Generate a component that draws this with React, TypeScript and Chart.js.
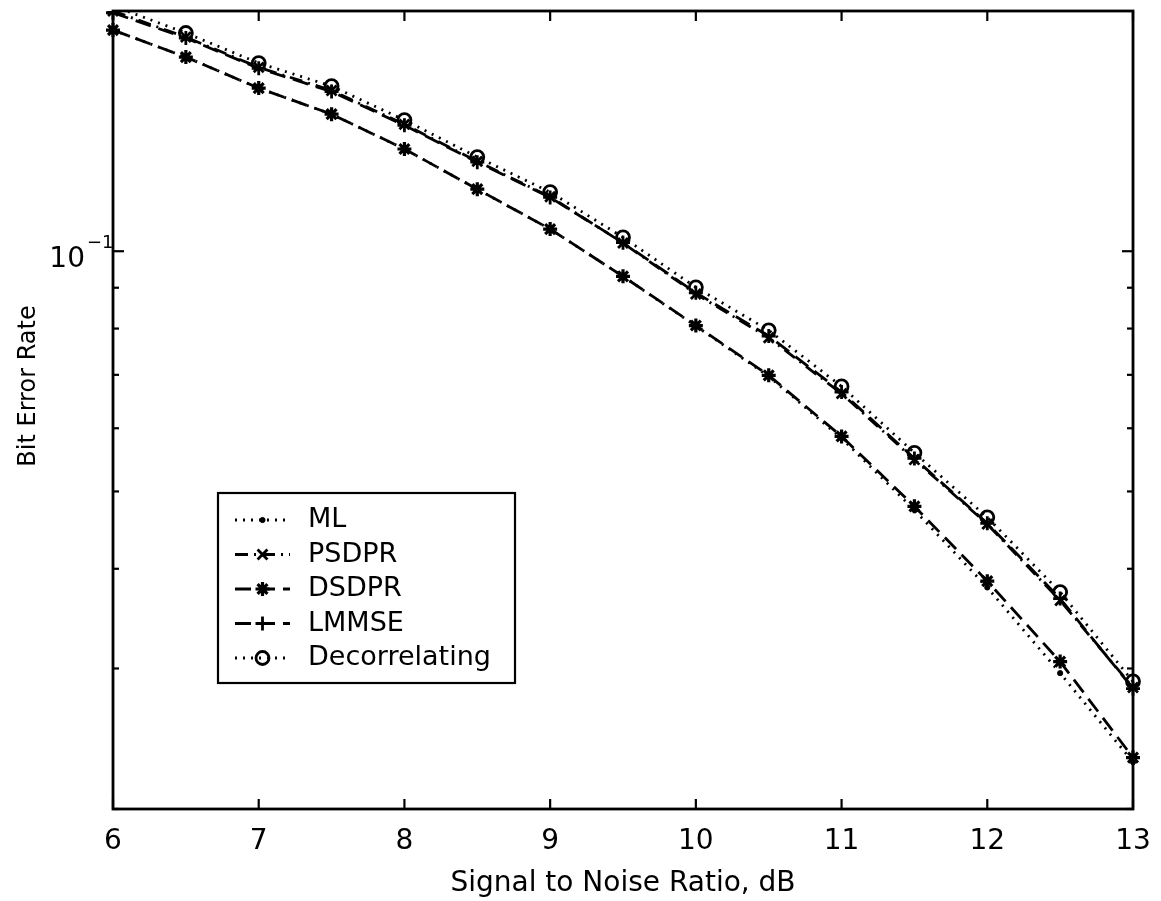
import React, { useEffect, useRef } from 'react';
import { Chart, registerables } from 'chart.js';
import { drawPoint } from 'chart.js/helpers';

Chart.register(...registerables);

// ---- data ----
const snrDb = [6, 6.5, 7, 7.5, 8, 8.5, 9, 9.5, 10, 10.5, 11, 11.5, 12, 12.5, 13];

const mlBer = [0.1893, 0.1751, 0.1601, 0.1485, 0.1343, 0.1196, 0.1066, 0.093, 0.0806, 0.0697, 0.0583, 0.0474, 0.0379, 0.0296, 0.0229];
const psdprBer = [0.2, 0.1855, 0.17, 0.159, 0.1442, 0.1296, 0.117, 0.1024, 0.0884, 0.0779, 0.0663, 0.0548, 0.0455, 0.0365, 0.0284];
const dsdprBer = [0.1893, 0.1751, 0.1601, 0.1485, 0.1343, 0.1196, 0.1066, 0.093, 0.0807, 0.0699, 0.0586, 0.0479, 0.0386, 0.0306, 0.0232];
const lmmseBer = [0.199, 0.185, 0.1695, 0.1585, 0.1438, 0.1293, 0.1168, 0.1025, 0.0887, 0.0783, 0.0666, 0.055, 0.0456, 0.0367, 0.0283];
const decorrBer = [0.203, 0.1877, 0.1721, 0.161, 0.146, 0.1312, 0.1186, 0.1041, 0.0901, 0.0796, 0.0677, 0.0559, 0.0464, 0.0374, 0.0289];

const seriesNames = ['ML', 'PSDPR', 'DSDPR', 'LMMSE', 'Decorrelating'];

const xTickValues = [6, 7, 8, 9, 10, 11, 12, 13];
const yMinorTickValues = [0.02, 0.03, 0.04, 0.05, 0.06, 0.07, 0.08, 0.09];
const yMajorTickValues = [0.1];
const yMajorTickBase = '10';
const yMajorTickExp = '\u22121';
const xAxisTitle = 'Signal to Noise Ratio, dB';
const yAxisTitle = 'Bit Error Rate';

const FONT = '"DejaVu Sans", sans-serif';

const toPoints = (ys: number[]) => snrDb.map((x, i) => ({ x, y: ys[i] }));

const framePlugin = {
  id: 'matlabFrame',
  beforeDatasetsDraw(chart: any) {
    const { ctx, chartArea: a, scales } = chart;
    ctx.save();
    ctx.strokeStyle = '#000';
    ctx.lineWidth = 2.8;
    ctx.setLineDash([]);
    ctx.strokeRect(a.left, a.top, a.right - a.left, a.bottom - a.top);
    ctx.lineWidth = 2.2;
    const seg = (x1: number, y1: number, x2: number, y2: number) => {
      ctx.beginPath();
      ctx.moveTo(x1, y1);
      ctx.lineTo(x2, y2);
      ctx.stroke();
    };
    for (const v of xTickValues) {
      const px = scales.x.getPixelForValue(v);
      seg(px, a.bottom, px, a.bottom - 10);
      seg(px, a.top, px, a.top + 10);
    }
    for (const v of yMinorTickValues) {
      const py = scales.y.getPixelForValue(v);
      seg(a.left, py, a.left + 6, py);
      seg(a.right, py, a.right - 6, py);
    }
    ctx.fillStyle = '#000';
    for (const v of yMajorTickValues) {
      const py = scales.y.getPixelForValue(v);
      seg(a.left, py, a.left + 11, py);
      seg(a.right, py, a.right - 11, py);
      ctx.font = `28px ${FONT}`;
      ctx.textAlign = 'right';
      ctx.textBaseline = 'middle';
      ctx.fillText(yMajorTickBase, a.left - 28, py + 8);
      ctx.font = `18px ${FONT}`;
      ctx.textAlign = 'left';
      ctx.fillText(yMajorTickExp, a.left - 26, py - 8);
    }
    // y axis title (rotated), placed a little above the plot's middle like the original
    ctx.translate(29, (a.top + a.bottom) / 2 - 24);
    ctx.rotate(-Math.PI / 2);
    ctx.font = `24px ${FONT}`;
    ctx.textAlign = 'center';
    ctx.textBaseline = 'middle';
    ctx.fillText(yAxisTitle, 0, 0);
    ctx.restore();
  },
};

const legendPlugin = {
  id: 'insetLegend',
  afterDraw(chart: any) {
    const { ctx } = chart;
    const box = { left: 218, top: 493, width: 297, height: 190 };
    ctx.save();
    ctx.fillStyle = '#fff';
    ctx.fillRect(box.left, box.top, box.width, box.height);
    ctx.strokeStyle = '#000';
    ctx.lineWidth = 2.2;
    ctx.setLineDash([]);
    ctx.strokeRect(box.left, box.top, box.width, box.height);
    chart.data.datasets.forEach((ds: any, i: number) => {
      const y = box.top + 27 + i * 34.5;
      const x1 = box.left + 17;
      const x2 = box.left + 72;
      ctx.strokeStyle = '#000';
      ctx.lineWidth = ds.borderWidth;
      ctx.setLineDash(ds.borderDash || []);
      ctx.beginPath();
      ctx.moveTo(x1, y);
      ctx.lineTo(x2, y);
      ctx.stroke();
      ctx.setLineDash([]);
      ctx.fillStyle = ds.pointBackgroundColor;
      ctx.lineWidth = ds.pointBorderWidth;
      drawPoint(ctx, { pointStyle: ds.pointStyle, radius: ds.pointRadius, borderWidth: ds.pointBorderWidth, rotation: 0 } as any, (x1 + x2) / 2, y);
      ctx.fillStyle = '#000';
      ctx.font = `27px ${FONT}`;
      ctx.textAlign = 'left';
      ctx.textBaseline = 'middle';
      ctx.fillText(ds.label, box.left + 90, y);
    });
    ctx.restore();
  },
};

const clipBox = { left: 14, right: 14, top: 0, bottom: 14 };

export default function App() {
  const canvasRef = useRef<HTMLCanvasElement | null>(null);

  useEffect(() => {
    document.body.style.margin = '0';
    const canvas = canvasRef.current;
    if (!canvas) return;
    const base = {
      borderColor: '#000',
      pointBorderColor: '#000',
      borderWidth: 2.8,
      tension: 0,
      fill: false,
      clip: clipBox,
      borderCapStyle: 'butt',
    };
    const chart = new Chart(canvas, {
      type: 'line',
      data: {
        datasets: [
          { ...base, label: seriesNames[0], data: toPoints(mlBer), borderDash: [2, 6], pointStyle: 'circle', pointRadius: 2.6, pointBorderWidth: 1, pointBackgroundColor: '#000' },
          { ...base, label: seriesNames[1], data: toPoints(psdprBer), borderDash: [13, 6, 2, 6], pointStyle: 'crossRot', pointRadius: 7, pointBorderWidth: 2.8, pointBackgroundColor: 'rgba(0,0,0,0)' },
          { ...base, label: seriesNames[2], data: toPoints(dsdprBer), borderDash: [16, 8], pointStyle: 'star', pointRadius: 7, pointBorderWidth: 3.2, pointBackgroundColor: 'rgba(0,0,0,0)' },
          { ...base, label: seriesNames[3], data: toPoints(lmmseBer), borderDash: [16, 8], pointStyle: 'cross', pointRadius: 7, pointBorderWidth: 2.8, pointBackgroundColor: 'rgba(0,0,0,0)' },
          { ...base, label: seriesNames[4], data: toPoints(decorrBer), borderDash: [2, 6], pointStyle: 'circle', pointRadius: 6.5, pointBorderWidth: 2.8, pointBackgroundColor: 'rgba(0,0,0,0)' },
        ] as any,
      },
      options: {
        responsive: false,
        animation: false,
        devicePixelRatio: 1,
        layout: { padding: { top: 11, right: 28, bottom: 0, left: 0 } },
        plugins: {
          legend: { display: false },
          tooltip: { enabled: false },
        },
        scales: {
          x: {
            type: 'linear',
            min: 6,
            max: 13,
            ticks: { stepSize: 1, color: '#000', font: { family: FONT, size: 28 }, padding: 8 },
            grid: { display: false },
            border: { display: false },
            title: {
              display: true,
              text: xAxisTitle,
              color: '#000',
              font: { family: FONT, size: 28 },
              padding: { top: 0, bottom: 0 },
            },
            afterFit: (s: any) => { s.height = 92; },
          },
          y: {
            type: 'logarithmic',
            min: 0.02,
            max: 0.2,
            ticks: { callback: () => '' },
            grid: { display: false },
            border: { display: false },
            title: { display: false },
            afterFit: (s: any) => { s.width = 113; },
          },
        },
      } as any,
      plugins: [framePlugin, legendPlugin],
    });
    return () => chart.destroy();
  }, []);

  return (
    <div style={{ width: 1161, height: 901, background: '#fff' }}>
      <canvas ref={canvasRef} width={1161} height={901} style={{ display: 'block' }} />
    </div>
  );
}
